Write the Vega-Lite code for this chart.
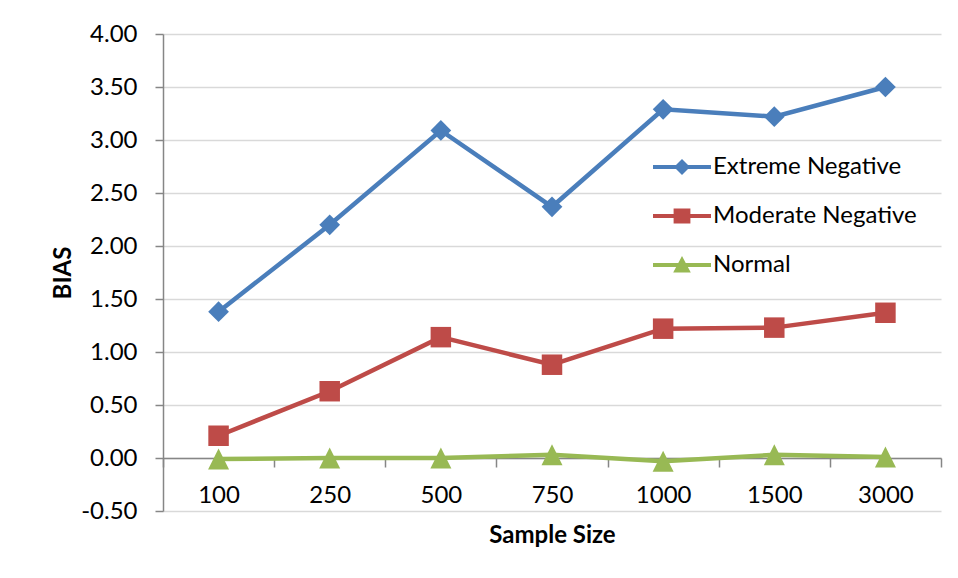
{
  "$schema": "https://vega.github.io/schema/vega-lite/v6.json",
  "width": 778,
  "height": 477,
  "autosize": {"type": "none"},
  "padding": {"left": 163, "top": 34, "right": 17, "bottom": 67},
  "background": "white",
  "config": {
    "view": {"stroke": null},
    "font": "Lato"
  },
  "data": {
    "values": [
      {"size": "100", "series": "Extreme Negative", "bias": 1.38},
      {"size": "250", "series": "Extreme Negative", "bias": 2.20},
      {"size": "500", "series": "Extreme Negative", "bias": 3.09},
      {"size": "750", "series": "Extreme Negative", "bias": 2.37},
      {"size": "1000", "series": "Extreme Negative", "bias": 3.29},
      {"size": "1500", "series": "Extreme Negative", "bias": 3.22},
      {"size": "3000", "series": "Extreme Negative", "bias": 3.50},
      {"size": "100", "series": "Moderate Negative", "bias": 0.21},
      {"size": "250", "series": "Moderate Negative", "bias": 0.63},
      {"size": "500", "series": "Moderate Negative", "bias": 1.14},
      {"size": "750", "series": "Moderate Negative", "bias": 0.88},
      {"size": "1000", "series": "Moderate Negative", "bias": 1.22},
      {"size": "1500", "series": "Moderate Negative", "bias": 1.23},
      {"size": "3000", "series": "Moderate Negative", "bias": 1.37},
      {"size": "100", "series": "Normal", "bias": -0.01},
      {"size": "250", "series": "Normal", "bias": 0.00},
      {"size": "500", "series": "Normal", "bias": 0.00},
      {"size": "750", "series": "Normal", "bias": 0.03},
      {"size": "1000", "series": "Normal", "bias": -0.03},
      {"size": "1500", "series": "Normal", "bias": 0.03},
      {"size": "3000", "series": "Normal", "bias": 0.01}
    ]
  },
  "encoding": {
    "x": {
      "field": "size",
      "type": "ordinal",
      "sort": ["100", "250", "500", "750", "1000", "1500", "3000"],
      "scale": {"type": "band", "paddingInner": 0, "paddingOuter": 0},
      "axis": {
        "title": "Sample Size",
        "offset": -53,
        "labelAngle": 0,
        "tickBand": "extent",
        "tickSize": 9,
        "tickColor": "#868686",
        "tickWidth": 1.5,
        "domainColor": "#868686",
        "domainWidth": 1.5,
        "labelFont": "Lato",
        "labelFontSize": 24,
        "labelColor": "#000000",
        "labelPadding": 16,
        "titleFont": "Lato",
        "titleFontSize": 24,
        "titleFontWeight": "bold",
        "titleColor": "#000000",
        "titlePadding": 16
      }
    },
    "y": {
      "field": "bias",
      "type": "quantitative",
      "scale": {"domain": [-0.5, 4], "nice": false, "zero": false},
      "axis": {
        "title": "BIAS",
        "values": [-0.5, 0, 0.5, 1, 1.5, 2, 2.5, 3, 3.5, 4],
        "format": ".2f",
        "labelExpr": "replace(datum.label, '\u2212', '-')",
        "grid": true,
        "gridColor": "#d9d9d9",
        "gridWidth": 1.5,
        "tickSize": 8,
        "tickColor": "#868686",
        "tickWidth": 1.5,
        "domainColor": "#868686",
        "domainWidth": 1.5,
        "labelFont": "Lato",
        "labelFontSize": 24,
        "labelColor": "#000000",
        "labelPadding": 18,
        "titleFont": "Lato",
        "titleFontSize": 24,
        "titleFontWeight": "bold",
        "titleColor": "#000000",
        "titlePadding": 5
      }
    },
    "color": {
      "field": "series",
      "type": "nominal",
      "scale": {
        "domain": ["Extreme Negative", "Moderate Negative", "Normal"],
        "range": ["#4A7EBB", "#BE4B48", "#98B954"]
      },
      "legend": {
        "title": null,
        "orient": "none",
        "legendX": 499,
        "legendY": 113,
        "direction": "vertical",
        "padding": 0,
        "symbolType": "M-1.45,-0.1L1.45,-0.1L1.45,0.1L-1.45,0.1Z",
        "symbolSize": 1600,
        "labelFont": "Lato",
        "labelFontSize": 24,
        "labelColor": "#000000",
        "labelLimit": 400,
        "labelOffset": 11,
        "rowPadding": 17,
        "encode": {
          "symbols": {
            "update": {
              "shape": {"signal": "datum.value === 'Extreme Negative' ? 'M-1.45,-0.1L1.45,-0.1L1.45,0.1L-1.45,0.1Z M-0.4,0L0,-0.4L0.4,0L0,0.4Z' : datum.value === 'Moderate Negative' ? 'M-1.45,-0.1L1.45,-0.1L1.45,0.1L-1.45,0.1Z M-0.42,-0.38L0.42,-0.38L0.42,0.38L-0.42,0.38Z' : 'M-1.45,-0.1L1.45,-0.1L1.45,0.1L-1.45,0.1Z M0,-0.45L0.44,0.38L-0.44,0.38Z'"},
              "fill": {"signal": "scale('color', datum.value)"},
              "strokeWidth": {"value": 0},
              "opacity": {"value": 1}
            }
          }
        }
      }
    }
  },
  "layer": [
    {
      "mark": {"type": "line", "strokeWidth": 4.5}
    },
    {
      "transform": [{"filter": "datum.series === 'Extreme Negative'"}],
      "mark": {"type": "point", "filled": true, "opacity": 1, "size": 430, "shape": "diamond"}
    },
    {
      "transform": [{"filter": "datum.series === 'Moderate Negative'"}],
      "mark": {"type": "point", "filled": true, "opacity": 1, "size": 420, "shape": "square"}
    },
    {
      "transform": [{"filter": "datum.series === 'Normal'"}],
      "mark": {"type": "point", "filled": true, "opacity": 1, "size": 441, "shape": "M0,-1L1,1L-1,1Z"}
    }
  ]
}
